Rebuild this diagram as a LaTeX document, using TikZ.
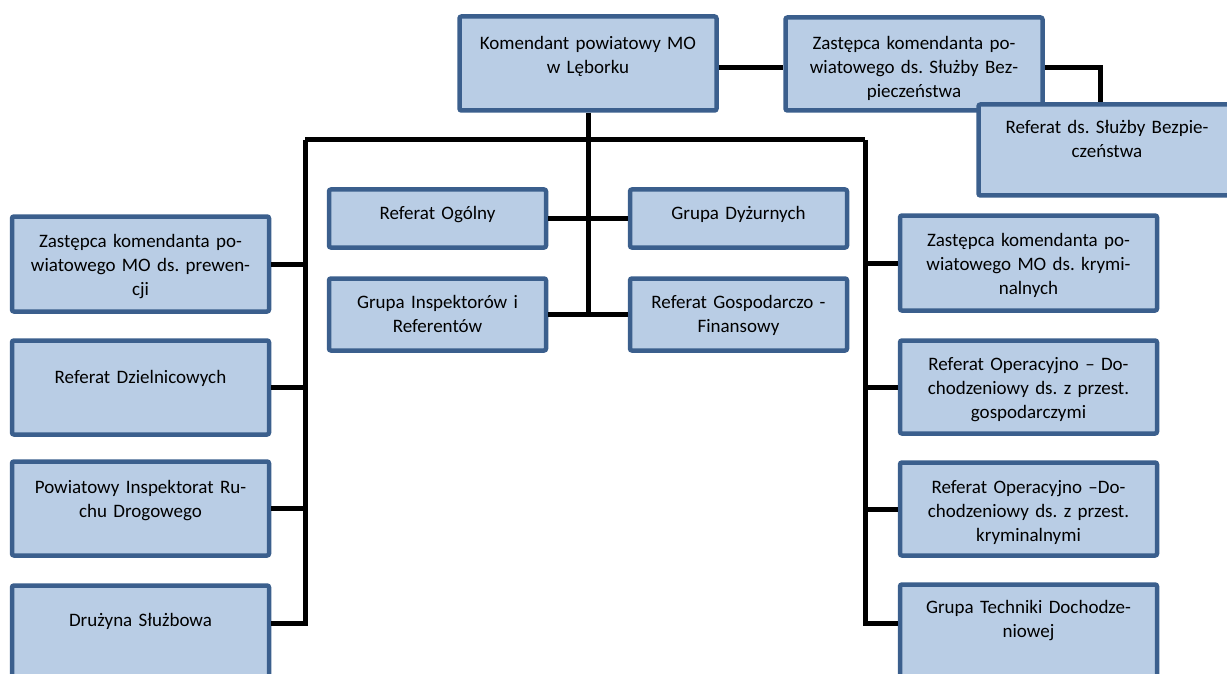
\documentclass[tikz,border=0pt]{standalone}
\usepackage{fontspec}
\setmainfont{Carlito}
\usepackage{tikz}
\frenchspacing
\definecolor{unitline}{HTML}{3B5F8D}
\definecolor{unitfill}{HTML}{B9CDE5}
\tikzset{
  orgbox/.style={draw=unitline, fill=unitfill, line width=4.5pt, rounded corners=2pt, inner sep=0pt},
  wide/.style={minimum width=257pt},
  narrow/.style={minimum width=217pt},
  lbl/.style={font=\fontsize{19}{24}\selectfont, align=center, text width=250pt, inner sep=0pt, anchor=base},
  wire/.style={line width=5pt, black}
}
\begin{document}
\begin{tikzpicture}[x=1pt, y=-1pt]
    \useasboundingbox (0,0) rectangle (1227,674);
    \clip (0,0) rectangle (1227,674);

    % Top: commander and security deputy
    \node[orgbox, wide, minimum height=94pt] (kom) at (588, 63.5) {};
    \node[orgbox, wide, minimum height=93pt] (zsb) at (914, 64) {};
    \node[orgbox, wide, minimum height=91pt] (rsb) at (1107, 150) {};

    % Middle sections
    \node[orgbox, narrow, minimum height=58pt] (rog) at (437.5, 218.5) {};
    \node[orgbox, narrow, minimum height=58pt] (gdy) at (738.5, 218.5) {};
    \node[orgbox, narrow, minimum height=72pt] (gin) at (437.5, 314.5) {};
    \node[orgbox, narrow, minimum height=72pt] (rgf) at (738.5, 314.5) {};

    % Left column
    \node[orgbox, wide, minimum height=95pt] (zpr) at (140.5, 264) {};
    \node[orgbox, wide, minimum height=94pt] (rdz) at (140.5, 387.5) {};
    \node[orgbox, wide, minimum height=94pt] (pir) at (140.5, 508.5) {};
    \node[orgbox, wide, minimum height=102pt] (dsl) at (140.5, 636.5) {};

    % Right column
    \node[orgbox, wide, minimum height=95pt] (zkr) at (1028.5, 263) {};
    \node[orgbox, wide, minimum height=93pt] (ro1) at (1028.5, 387) {};
    \node[orgbox, wide, minimum height=93pt] (ro2) at (1028.5, 509) {};
    \node[orgbox, wide, minimum height=103pt] (gtd) at (1028.5, 636) {};

    % Texts
    \node[lbl] (kom-t) at ([yshift=-35pt]kom.north) {Komendant powiatowy MO\\w Lęborku};
    \node[lbl] (zsb-t) at ([yshift=-34pt]zsb.north) {Zastępca komendanta po-\\wiatowego ds. Służby Bez-\\pieczeństwa};
    \node[lbl] (rsb-t) at ([yshift=-31pt]rsb.north) {Referat ds. Służby Bezpie-\\czeństwa};
    \node[lbl] (rog-t) at ([yshift=-32pt]rog.north) {Referat Ogólny};
    \node[lbl] (gdy-t) at ([yshift=-32pt]gdy.north) {Grupa Dyżurnych};
    \node[lbl] (gin-t) at ([yshift=-32pt]gin.north) {Grupa Inspektorów i\\Referentów};
    \node[lbl] (rgf-t) at ([yshift=-32pt]rgf.north) {Referat Gospodarczo -\\Finansowy};
    \node[lbl] (zpr-t) at ([yshift=-33pt]zpr.north) {Zastępca komendanta po-\\wiatowego MO ds. prewen-\\cji};
    \node[lbl] (rdz-t) at ([yshift=-45pt]rdz.north) {Referat Dzielnicowych};
    \node[lbl] (pir-t) at ([yshift=-34pt]pir.north) {Powiatowy Inspektorat Ru-\\chu Drogowego};
    \node[lbl] (dsl-t) at ([yshift=-43pt]dsl.north) {Drużyna Służbowa};
    \node[lbl] (zkr-t) at ([yshift=-33pt]zkr.north) {Zastępca komendanta po-\\wiatowego MO ds. krymi-\\nalnych};
    \node[lbl] (ro1-t) at ([yshift=-32pt]ro1.north) {Referat Operacyjno – Do-\\chodzeniowy ds. z przest.\\gospodarczymi};
    \node[lbl] (ro2-t) at ([yshift=-33pt]ro2.north) {Referat Operacyjno –Do-\\chodzeniowy ds. z przest.\\kryminalnymi};
    \node[lbl] (gtd-t) at ([yshift=-31pt]gtd.north) {Grupa Techniki Dochodze-\\niowej};

    % Connectors
    \coordinate (busl) at (305, 140);
    \coordinate (busr) at (865, 140);
    \draw[wire] ([yshift=-4pt]kom.east) -- ([yshift=-4pt]kom.east -| zsb.west);
    \draw[wire] ([yshift=-4pt]zsb.east) -| ([xshift=-7pt]rsb.north);
    \draw[wire] (kom.south) -- (kom.south |- gin.east);
    \draw[wire] (rog.east) -- (gdy.west);
    \draw[wire] (gin.east) -- (rgf.west);
    \draw[wire] (busl) -- (busr);
    \draw[wire] (busl) |- ([yshift=-40pt]dsl.north east);
    \draw[wire] (busr) |- ([yshift=-41pt]gtd.north west);
    \draw[wire] (zpr.east) -- (zpr.east -| busl);
    \draw[wire] (rdz.east) -- (rdz.east -| busl);
    \draw[wire] (pir.east) -- (pir.east -| busl);
    \draw[wire] (zkr.west) -- (zkr.west -| busr);
    \draw[wire] (ro1.west) -- (ro1.west -| busr);
    \draw[wire] (ro2.west) -- (ro2.west -| busr);
\end{tikzpicture}
\end{document}
